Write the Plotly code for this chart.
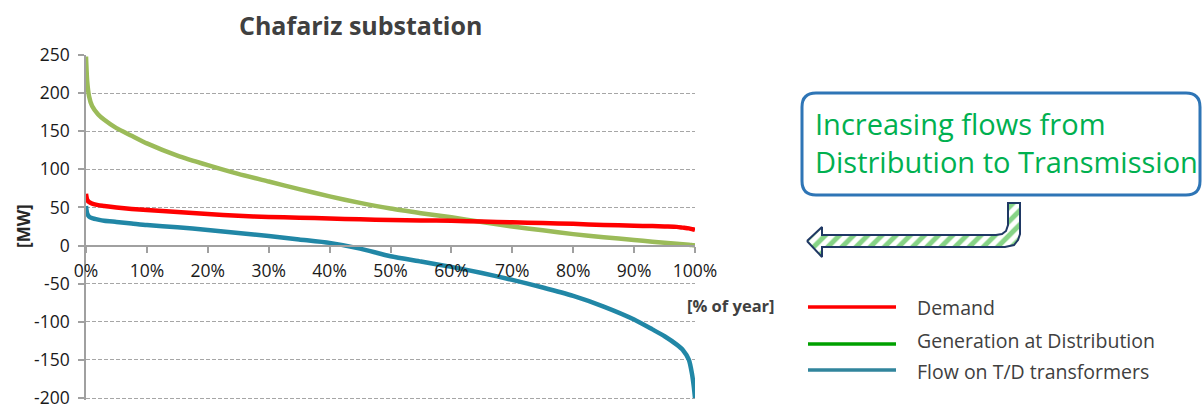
import plotly.graph_objects as go

# Load duration curves of the Chafariz substation (MW, sorted over the year)
pct_of_year = [0, 0.2, 0.5, 1, 2, 3, 5, 7.5, 10, 15, 20, 25, 30, 35, 40, 45, 50,
               55, 60, 65, 70, 75, 80, 85, 90, 93, 95, 97, 98, 99, 99.5, 99.8, 100]
demand_mw = [68, 60, 57, 55, 53, 52, 50, 48, 46.5, 44, 41.5, 39, 37.5, 36.5, 35.5, 34.5, 33.5,
             33, 32.5, 31.5, 30.5, 29.5, 28.5, 27, 26, 25.5, 25, 24.5, 23.5, 22.5, 21.5, 21, 20.5]
generation_mw = [248, 215, 196, 183, 172, 165, 154, 144, 134, 118, 105.5, 94, 84, 74, 64.5, 56, 48.5,
                 42.5, 37, 31, 25, 20, 15, 11, 7.3, 5, 3.8, 2.5, 1.8, 1, 0.6, 0.3, 0]
flow_mw = [52, 42, 38, 36, 34, 32.5, 31, 29, 27, 24, 20.5, 16.5, 12.5, 8, 3.5, -4, -14,
           -21, -28, -36, -45, -55, -66, -80, -97, -110, -119, -130, -137, -150, -168, -185, -200]

x_tick_vals = [0, 10, 20, 30, 40, 50, 60, 70, 80, 90, 100]
x_tick_text = ["0%", "10%", "20%", "30%", "40%", "50%", "60%", "70%", "80%", "90%", "100%"]
y_tick_vals = [-200, -150, -100, -50, 0, 50, 100, 150, 200, 250]
y_tick_text = ["-200", "-150", "-100", "-50", "0", "50", "100", "150", "200", "250"]

legend_labels = ["Demand", "Generation at Distribution", "Flow on T/D transformers"]
legend_colors = ["#FF0000", "#00A000", "#31859C"]

W, H = 1203, 405
FONT = "Open Sans"
TEXT = "#404040"
AXIS = "#A0A0A0"

# Plot area: 250 MW sits at y=55 px and -200 MW at y=398 px; the range is padded
# a little below -200 so that the last tick and grid line are kept
px_left, px_right = 86, 695
px_250, px_m200 = 55, 398
px_per_mw = (px_m200 - px_250) / 450
y_lo, y_hi = -202, 250
px_top = px_250
px_bottom = px_m200 + (-200 - y_lo) * px_per_mw
dom_y = [1 - px_bottom / H, 1 - px_top / H]
zero_pos = dom_y[0] + (0 - y_lo) / (y_hi - y_lo) * (dom_y[1] - dom_y[0])

fig = go.Figure()

series = [
    ("Generation at Distribution", generation_mw, "#9BBB59"),
    ("Demand", demand_mw, "#FF0000"),
    ("Flow on T/D transformers", flow_mw, "#2187A6"),
]
for name, vals, col in series:
    fig.add_trace(go.Scatter(x=pct_of_year, y=vals, mode="lines", name=name,
                             line=dict(color=col, width=4.5, shape="spline", smoothing=0.6),
                             showlegend=False, hoverinfo="skip", xaxis="x", yaxis="y"))

# Pixel-space overlay for the callout, arrow and legend
arrow_x = [807, 822, 822, 996, 1002, 1006, 1008, 1008, 1020, 1020, 1018, 1014, 1005, 822, 822, 807]
arrow_y = [241, 227, 235, 235, 234, 231, 225, 203, 203, 234, 240, 245, 247, 247, 257, 241]
fig.add_trace(go.Scatter(x=arrow_x, y=arrow_y, mode="lines", fill="toself",
                         fillcolor="white",
                         fillpattern=dict(shape="/", fgcolor="#86D386", bgcolor="white",
                                          size=10, solidity=0.5),
                         line=dict(color="#1F3864", width=2),
                         showlegend=False, hoverinfo="skip", xaxis="x2", yaxis="y2"))

shapes = []
# Callout box
shapes.append(dict(type="path", xref="x2", yref="y2",
                   path="M 816,93 L 1186,93 Q 1200,93 1200,107 L 1200,181 Q 1200,195 1186,195 "
                        "L 816,195 Q 802,195 802,181 L 802,107 Q 802,93 816,93 Z",
                   line=dict(color="#2E75B6", width=3), fillcolor="rgba(255,255,255,0)",
                   layer="below"))
# Legend keys
legend_line_y = [307, 344, 370]
legend_text_y = [307, 340, 371]
for ly, col in zip(legend_line_y, legend_colors):
    shapes.append(dict(type="line", xref="x2", yref="y2", x0=808, x1=896, y0=ly, y1=ly,
                       line=dict(color=col, width=3.5)))

annotations = [
    dict(text="<b>Chafariz substation</b>", xref="x2", yref="y2", x=360, y=25,
         showarrow=False, font=dict(family=FONT, size=25, color=TEXT),
         xanchor="center", yanchor="middle"),
    dict(text="<b>[MW]</b>", xref="x2", yref="y2", x=23, y=226, textangle=-90,
         showarrow=False, font=dict(family=FONT, size=17, color="#262626"),
         xanchor="center", yanchor="middle"),
    dict(text="<b>[% of year]</b>", xref="x2", yref="y2", x=731, y=305,
         showarrow=False, font=dict(family=FONT, size=16.5, color=TEXT),
         xanchor="center", yanchor="middle"),
    dict(text="Increasing flows from<br>Distribution to Transmission", xref="x2", yref="y2",
         x=813, y=142, align="left", showarrow=False,
         font=dict(family=FONT, size=29, color="#00B050"),
         xanchor="left", yanchor="middle"),
]
for lbl, ty in zip(legend_labels, legend_text_y):
    annotations.append(dict(text=lbl, xref="x2", yref="y2", x=915, y=ty, showarrow=False,
                            font=dict(family=FONT, size=19.5, color=TEXT),
                            xanchor="left", yanchor="middle"))

fig.update_layout(
    template="none",
    width=W, height=H, autosize=False,
    margin=dict(l=0, r=0, t=0, b=0, pad=0, autoexpand=False),
    paper_bgcolor="white", plot_bgcolor="rgba(0,0,0,0)",
    font=dict(family=FONT, size=16, color="#1A1A1A"),
    showlegend=False,
    xaxis=dict(domain=[px_left / W, px_right / W], range=[0, 100], anchor="free",
               position=zero_pos, showgrid=False, zeroline=False, automargin=False,
               showline=True, linecolor=AXIS, linewidth=2,
               ticks="outside", ticklen=6, tickcolor=AXIS, tickwidth=1.5,
               tickvals=x_tick_vals, ticktext=x_tick_text, ticklabelstandoff=3,
               ticklabeloverflow="allow",
               tickfont=dict(family=FONT, size=17.5, color="#1A1A1A"), fixedrange=True),
    yaxis=dict(domain=dom_y, range=[y_lo, y_hi], anchor="x", showgrid=True, automargin=False,
               gridcolor="#A6A6A6", gridwidth=1, griddash="4px,2px", zeroline=False,
               showline=True, linecolor=AXIS, linewidth=1.5,
               ticks="outside", ticklen=6, tickcolor=AXIS, tickwidth=1.5,
               tickvals=y_tick_vals, ticktext=y_tick_text, ticklabelstandoff=5,
               ticklabeloverflow="allow",
               tickfont=dict(family=FONT, size=17.5, color="#1A1A1A"), fixedrange=True),
    xaxis2=dict(domain=[0, 1], range=[0, W], anchor="y2", visible=False, fixedrange=True,
                automargin=False),
    yaxis2=dict(domain=[0, 1], range=[H, 0], anchor="x2", visible=False, fixedrange=True,
                automargin=False),
    shapes=shapes,
    annotations=annotations,
)

fig.write_html("out.html")
